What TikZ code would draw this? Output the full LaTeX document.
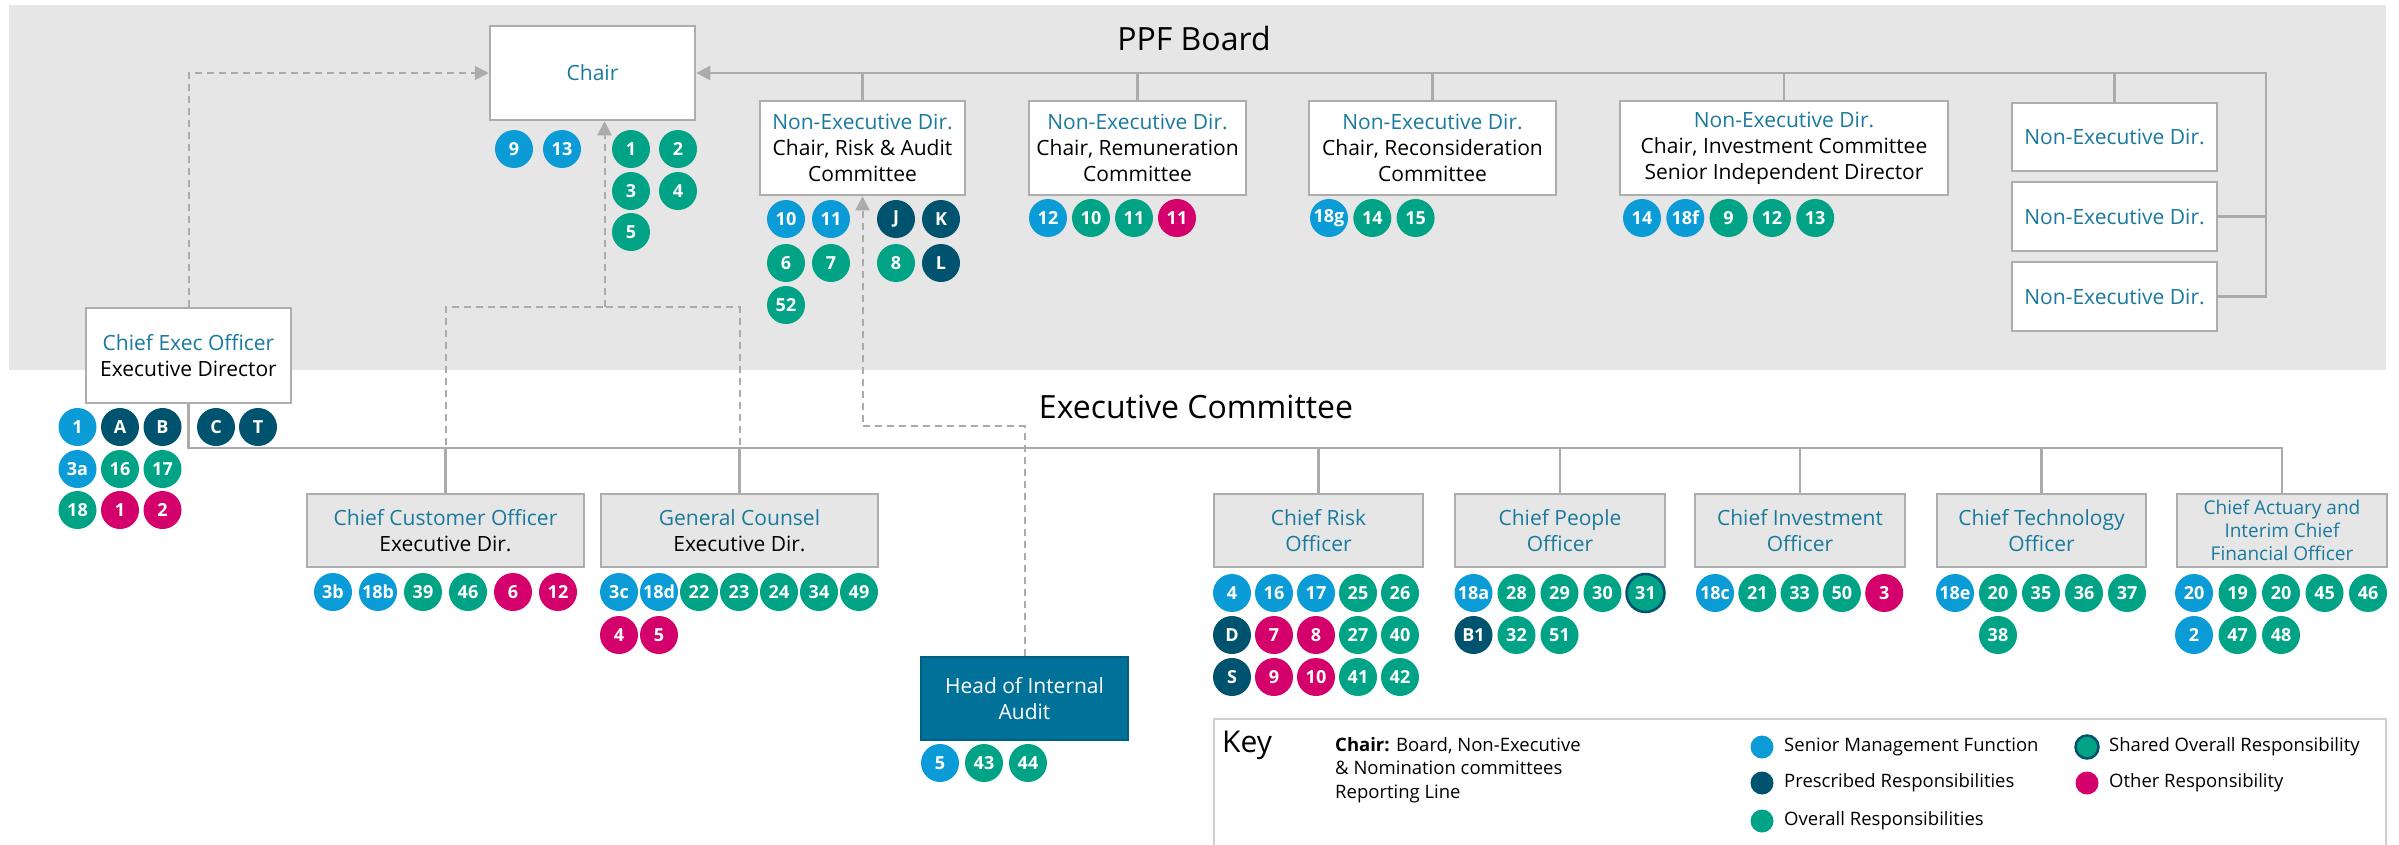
\documentclass[tikz,border=0pt]{standalone}
\usepackage{fontspec}
\setmainfont{Open Sans}
\usetikzlibrary{arrows.meta}
\definecolor{smf}{HTML}{0B9CD8}
\definecolor{prs}{HTML}{00536E}
\definecolor{ovr}{HTML}{00A385}
\definecolor{oth}{HTML}{D4006B}
\definecolor{tealtxt}{HTML}{1A7A9E}
\definecolor{bggray}{HTML}{E6E6E6}
\definecolor{exfill}{HTML}{E6E6E6}
\definecolor{boxgray}{HTML}{ADADAD}
\definecolor{linegray}{HTML}{ABABAB}
\definecolor{hiafill}{HTML}{00729A}
\definecolor{hiaedge}{HTML}{005E80}
\definecolor{keygray}{HTML}{D0D0D0}
\newcommand\boxfont{\fontsize{21}{26}\selectfont}
\newcommand\badgefont{\fontsize{18}{18}\selectfont\bfseries}
\newcommand\legfont{\fontsize{18.5}{23.5}\selectfont}
\newcommand\tl[1]{{\color{tealtxt}#1}}
\newcommand\brow[5]{\foreach[count=\i from 0] \sty/\lab in {#5}{\node[\sty] (#1-\i) at ({#2+\i*#4},#3) {\lab};}}
\tikzset{
  bbox/.style={draw=boxgray, line width=2.5pt, fill=white, inner sep=0pt, align=center, font=\boxfont},
  ebox/.style={bbox, fill=exfill},
  badge/.style={circle, minimum size=38pt, inner sep=0pt, text=white, font=\badgefont},
  bsm/.style={badge, fill=smf},
  bpr/.style={badge, fill=prs},
  bov/.style={badge, fill=ovr},
  bot/.style={badge, fill=oth},
  bsh/.style={badge, fill=ovr, draw=prs, line width=2.5pt},
  legdot/.style={circle, minimum size=23pt, inner sep=0pt},
  legtxt/.style={anchor=west, inner sep=0pt, font=\legfont},
  conn/.style={draw=linegray, line width=2.6pt},
  dconn/.style={draw=linegray, line width=2pt, dash pattern=on 7pt off 5pt},
  arrowhd/.style={-{Triangle[length=14pt,width=14pt]}},
  title/.style={inner sep=0pt, font=\fontsize{32}{36}\selectfont}
}
\begin{document}
\begin{tikzpicture}[x=1pt,y=-1pt]
\useasboundingbox (0,0) rectangle (2399,844);
\fill[bggray] (9,5) rectangle (2386,370);
\node[title] (ppf) at (1194,38) {PPF Board};
\node[title] (exco) at (1196,407) {Executive Committee};

% board boxes
\node[bbox, minimum width=205pt, minimum height=94pt] (chair) at (592.5,73) {\tl{Chair}};
\node[bbox, minimum width=205pt, minimum height=94pt] (ned1) at (862.5,148) {\tl{Non-Executive Dir.}\\Chair, Risk \& Audit\\Committee};
\node[bbox, minimum width=217pt, minimum height=94pt] (ned2) at (1137.5,148) {\tl{Non-Executive Dir.}\\Chair, Remuneration\\Committee};
\node[bbox, minimum width=247pt, minimum height=94pt] (ned3) at (1432.5,148) {\tl{Non-Executive Dir.}\\Chair, Reconsideration\\Committee};
\node[bbox, minimum width=328pt, minimum height=94pt] (ned4) at (1784,148) {\tl{Non-Executive Dir.}\\Chair, Investment Committee\\Senior Independent Director};
\node[bbox, minimum width=205pt, minimum height=68pt] (ned5) at (2114.5,137) {\tl{Non-Executive Dir.}};
\node[bbox, minimum width=205pt, minimum height=69pt] (ned6) at (2114.5,216.5) {\tl{Non-Executive Dir.}};
\node[bbox, minimum width=205pt, minimum height=69pt] (ned7) at (2114.5,296.5) {\tl{Non-Executive Dir.}};
\node[bbox, minimum width=205pt, minimum height=95pt] (ceo) at (188.5,355.5) {\tl{Chief Exec Officer}\\Executive Director};

% executive boxes
\node[ebox, minimum width=277pt, minimum height=73pt] (cco) at (445.5,530.5) {\tl{Chief Customer Officer}\\Executive Dir.};
\node[ebox, minimum width=277pt, minimum height=73pt] (gc) at (739.5,530.5) {\tl{General Counsel}\\Executive Dir.};
\node[ebox, minimum width=209pt, minimum height=73pt] (cro) at (1318.5,530.5) {\tl{Chief Risk}\\\tl{Officer}};
\node[ebox, minimum width=210pt, minimum height=73pt] (cpo) at (1560,530.5) {\tl{Chief People}\\\tl{Officer}};
\node[ebox, minimum width=210pt, minimum height=73pt] (cio) at (1800,530.5) {\tl{Chief Investment}\\\tl{Officer}};
\node[ebox, minimum width=209pt, minimum height=73pt] (cto) at (2041.5,530.5) {\tl{Chief Technology}\\\tl{Officer}};
\node[ebox, minimum width=210pt, minimum height=73pt, font=\fontsize{19}{23.3}\selectfont] (ca) at (2282,530.5) {\tl{Chief Actuary and}\\\tl{Interim Chief}\\\tl{Financial Officer}};
\node[bbox, draw=hiaedge, fill=hiafill, text=white, minimum width=207pt, minimum height=83pt] (hia) at (1024.5,698.5) {Head of Internal\\Audit};

% coordinates
\coordinate (busR) at (2266,73);
\coordinate (busE) at (188.5,448);
\coordinate (dj) at (604.5,307);
\coordinate (hy) at (0,426);

% dashed reporting lines
\draw[dconn, arrowhd] (ceo.north) |- (chair.west);
\draw[dconn] (cco.north) |- (dj);
\draw[dconn] (gc.north) |- (dj);
\draw[dconn, arrowhd] (dj) -- (dj |- chair.south);
\draw[dconn, arrowhd] (hia.north) -- (hia.north |- hy) -| (ned1.south);

% board bus
\draw[conn, arrowhd] (ned7.east) -| (busR) -- (chair.east);
\foreach \n in {ned1,ned2,ned3,ned4,ned5} \draw[conn] (\n.north) -- (\n.north |- busR);
\draw[conn] (ned6.east) -- (ned6.east -| busR);

% executive bus
\draw[conn] (ceo.south) -- (busE) -| (ca.north);
\foreach \n in {cco,gc,cro,cpo,cio,cto} \draw[conn] (\n.north) -- (\n.north |- busE);

% badges
\brow{chA}{514}{149}{48}{bsm/9,bsm/13}
\brow{chB}{631}{149}{47}{bov/1,bov/2}
\brow{chC}{631}{191}{47}{bov/3,bov/4}
\brow{chD}{631}{232}{47}{bov/5}
\brow{naA}{786}{219}{45}{bsm/10,bsm/11}
\brow{naB}{896}{219}{45}{bpr/J,bpr/K}
\brow{naC}{786}{263}{45}{bov/6,bov/7}
\brow{naD}{896}{263}{45}{bov/8,bpr/L}
\brow{naE}{786}{305}{45}{bov/52}
\brow{nb}{1048}{218}{43}{bsm/12,bov/10,bov/11,bot/11}
\brow{nc}{1329}{218}{43.3}{bsm/18g,bov/14,bov/15}
\brow{nd}{1642}{218}{43.3}{bsm/14,bsm/18f,bov/9,bov/12,bov/13}
\brow{ceA}{77.5}{427}{42.5}{bsm/1,bpr/A,bpr/B}
\brow{ceB}{216}{427}{42}{bpr/C,bpr/T}
\brow{ceC}{77.5}{469}{42.5}{bsm/3a,bov/16,bov/17}
\brow{ceD}{77.5}{510}{42.5}{bov/18,bot/1,bot/2}
\brow{cc}{333}{592}{45}{bsm/3b,bsm/18b,bov/39,bov/46,bot/6,bot/12}
\brow{gcA}{619}{592}{40}{bsm/3c,bsm/18d,bov/22,bov/23,bov/24,bov/34,bov/49}
\brow{gcB}{619}{635}{40}{bot/4,bot/5}
\brow{crA}{1232}{593}{42}{bsm/4,bsm/16,bsm/17,bov/25,bov/26}
\brow{crB}{1232}{635}{42}{bpr/D,bot/7,bot/8,bov/27,bov/40}
\brow{crC}{1232}{677}{42}{bpr/S,bot/9,bot/10,bov/41,bov/42}
\brow{cpA}{1473.5}{593}{43}{bsm/18a,bov/28,bov/29,bov/30,bsh/31}
\brow{cpB}{1473.5}{635}{43}{bpr/B1,bov/32,bov/51}
\brow{ci}{1715}{593}{42.3}{bsm/18c,bov/21,bov/33,bov/50,bot/3}
\brow{ctA}{1955}{593}{43}{bsm/18e,bov/20,bov/35,bov/36,bov/37}
\brow{ctB}{1998}{635}{43}{bov/38}
\brow{caA}{2194}{593}{43.5}{bsm/20,bov/19,bov/20,bov/45,bov/46}
\brow{caB}{2194}{635}{43.5}{bsm/2,bov/47,bov/48}
\brow{hi}{940}{763}{44}{bsm/5,bov/43,bov/44}

% key
\draw[draw=keygray, line width=2pt] (1214,860) -- (1214,719) -- (2386,719) -- (2386,860);
\node[anchor=base west, inner sep=0pt, font=\fontsize{30}{34}\selectfont] (keyt) at (1222,752) {Key};
\node[anchor=west, inner sep=0pt, align=left, font=\legfont] (keyx) at (1335,770) {\textbf{Chair:} Board, Non-Executive\\\& Nomination committees\\Reporting Line};
\node[legdot, fill=smf] (l1) at (1762,747) {};
\node[legtxt] (l1t) at (1784,747) {Senior Management Function};
\node[legdot, fill=prs] (l2) at (1762,783) {};
\node[legtxt] (l2t) at (1784,783) {Prescribed Responsibilities};
\node[legdot, fill=ovr] (l3) at (1762,821) {};
\node[legtxt] (l3t) at (1784,821) {Overall Responsibilities};
\node[legdot, fill=ovr, draw=prs, line width=2.5pt] (l4) at (2087,747) {};
\node[legtxt] (l4t) at (2109,747) {Shared Overall Responsibility};
\node[legdot, fill=oth] (l5) at (2087,783) {};
\node[legtxt] (l5t) at (2109,783) {Other Responsibility};
\end{tikzpicture}
\end{document}
